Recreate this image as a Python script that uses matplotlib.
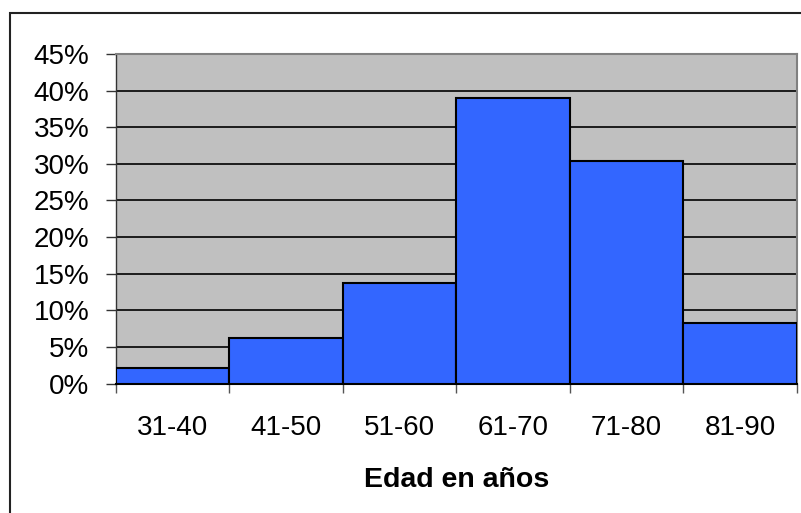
import matplotlib.pyplot as plt
import matplotlib.patches as patches
import numpy as np

plt.rcParams['font.family'] = ['Liberation Sans', 'DejaVu Sans']

# Datos
grupos_edad = ['31-40', '41-50', '51-60', '61-70', '71-80', '81-90']
porcentajes = [2.05, 6.15, 13.7, 38.95, 30.4, 8.28]
ticks_y = [0, 5, 10, 15, 20, 25, 30, 35, 40, 45]

W, H = 801, 513
fig = plt.figure(figsize=(W / 100, H / 100), dpi=100)

# Marco exterior del grafico (estilo Excel)
marco = patches.Rectangle((10 / W, -0.1), 1.2, 1 - 13 / H + 0.1,
                          transform=fig.transFigure, fill=False,
                          edgecolor='#222222', linewidth=1.5, clip_on=False)
fig.patches.append(marco)

ax = fig.add_axes([115.5 / W, 1 - 383.5 / H, (797 - 115.5) / W, (383.5 - 54) / H])
ax.set_facecolor('#C0C0C0')

posiciones = np.arange(len(grupos_edad))
ax.bar(posiciones, porcentajes, width=1.0, align='edge', color='#3366FF',
       edgecolor='black', linewidth=1.5, zorder=3)

ax.set_xlim(0, len(grupos_edad))
ax.set_ylim(0, 45)

ax.set_yticks(ticks_y)
ax.set_yticklabels([f'{v}%' for v in ticks_y], fontsize=20)
ax.yaxis.grid(True, color='black', linewidth=1.2, zorder=1)
ax.set_axisbelow(True)
ax.tick_params(axis='y', length=7.2, width=1.0, color='#333333', pad=11.5)

# Marcas en los limites de cada intervalo, etiquetas centradas
ax.set_xticks(np.arange(len(grupos_edad) + 1))
ax.set_xticklabels([])
ax.set_xticks(posiciones + 0.5, minor=True)
ax.set_xticklabels(grupos_edad, minor=True, fontsize=20)
ax.tick_params(axis='x', which='major', length=6.5, width=1.0, color='#555555')
ax.tick_params(axis='x', which='minor', length=0, pad=22.5)

ax.set_xlabel('Edad en años', fontsize=20.5, fontweight='bold', labelpad=19)

for lado in ['top', 'right']:
    ax.spines[lado].set_color('#808080')
    ax.spines[lado].set_linewidth(1.5)
ax.spines['left'].set_color('#333333')
ax.spines['left'].set_linewidth(1.0)
ax.spines['bottom'].set_color('black')
ax.spines['bottom'].set_linewidth(1.5)

plt.savefig('out.png', dpi=100)
